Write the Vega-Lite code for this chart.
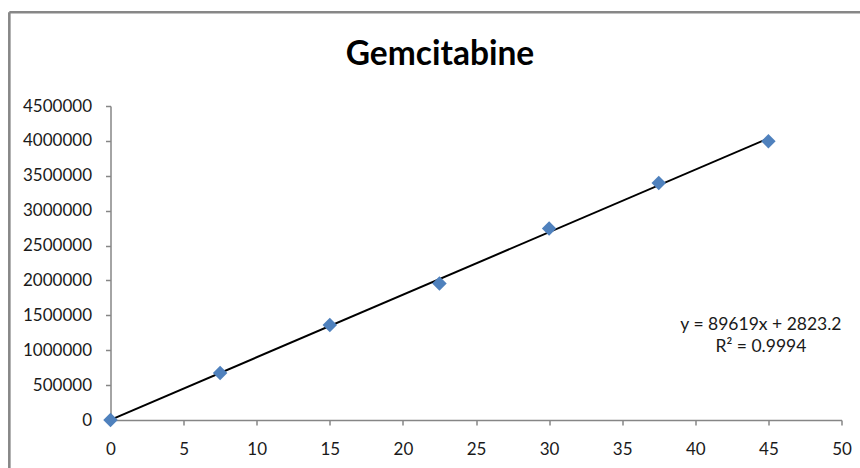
{
  "$schema": "https://vega.github.io/schema/vega-lite/v6.json",
  "autosize": {"type": "none"},
  "width": 731,
  "height": 314,
  "padding": {"left": 110.5, "top": 106, "right": 18.5, "bottom": 48},
  "background": "#ffffff",
  "config": {
    "view": {"stroke": null},
    "font": "Lato",
    "axis": {
      "domainColor": "#868686",
      "domainWidth": 1.5,
      "tickColor": "#868686",
      "tickWidth": 1.5,
      "tickSize": 5,
      "grid": false,
      "labelFont": "Lato",
      "labelFontSize": 17,
      "labelColor": "#1a1a1a",
      "labelOverlap": false,
      "labelFlush": false,
      "title": null
    },
    "axisX": {"values": [0, 5, 10, 15, 20, 25, 30, 35, 40, 45, 50], "labelPadding": 16},
    "axisY": {
      "values": [0, 500000, 1000000, 1500000, 2000000, 2500000, 3000000, 3500000, 4000000, 4500000],
      "format": "d",
      "labelPadding": 14
    }
  },
  "title": {
    "text": "Gemcitabine",
    "font": "Lato",
    "fontSize": 33.5,
    "fontWeight": "bold",
    "color": "#000000",
    "anchor": "middle",
    "frame": "group",
    "dx": -36,
    "baseline": "alphabetic",
    "offset": -87.4
  },
  "data": {
    "values": [
      {"concentration": 0, "area": 0},
      {"concentration": 7.5, "area": 672000},
      {"concentration": 15, "area": 1360000},
      {"concentration": 22.5, "area": 1955000},
      {"concentration": 30, "area": 2745000},
      {"concentration": 37.5, "area": 3395000},
      {"concentration": 45, "area": 3995000}
    ]
  },
  "layer": [
    {
      "data": {"values": [{"edge": "top"}]},
      "mark": {"type": "rule", "color": "#878787", "strokeWidth": 2.6},
      "encoding": {
        "x": {"datum": -6.92, "type": "quantitative", "scale": {"domain": [0, 50], "nice": false}, "axis": {"values": [0, 5, 10, 15, 20, 25, 30, 35, 40, 45, 50], "labelPadding": 16, "title": null}},
        "x2": {"datum": 70},
        "y": {"datum": 5843000, "type": "quantitative", "scale": {"domain": [0, 4500000], "nice": false}, "axis": {"values": [0, 500000, 1000000, 1500000, 2000000, 2500000, 3000000, 3500000, 4000000, 4500000], "format": "d", "labelPadding": 14, "title": null}}
      }
    },
    {
      "data": {"values": [{"edge": "left"}]},
      "mark": {"type": "rule", "color": "#878787", "strokeWidth": 2.6},
      "encoding": {
        "x": {"datum": -6.92, "type": "quantitative", "scale": {"domain": [0, 50], "nice": false}, "axis": {"values": [0, 5, 10, 15, 20, 25, 30, 35, 40, 45, 50], "labelPadding": 16, "title": null}},
        "y": {"datum": 5843000, "type": "quantitative", "scale": {"domain": [0, 4500000], "nice": false}, "axis": {"values": [0, 500000, 1000000, 1500000, 2000000, 2500000, 3000000, 3500000, 4000000, 4500000], "format": "d", "labelPadding": 14, "title": null}},
        "y2": {"datum": -1500000}
      }
    },
    {
      "data": {"values": [{"concentration": 0, "fit": 2823.2}, {"concentration": 45, "fit": 4035678.2}]},
      "mark": {"type": "line", "color": "#000000", "strokeWidth": 2},
      "encoding": {
        "x": {"field": "concentration", "type": "quantitative", "scale": {"domain": [0, 50], "nice": false}, "axis": {"values": [0, 5, 10, 15, 20, 25, 30, 35, 40, 45, 50], "labelPadding": 16, "title": null}},
        "y": {"field": "fit", "type": "quantitative", "scale": {"domain": [0, 4500000], "nice": false}, "axis": {"values": [0, 500000, 1000000, 1500000, 2000000, 2500000, 3000000, 3500000, 4000000, 4500000], "format": "d", "labelPadding": 14, "title": null}}
      }
    },
    {
      "mark": {"type": "point", "shape": "diamond", "filled": true, "color": "#4F81BD", "opacity": 1, "size": 210},
      "encoding": {
        "x": {"field": "concentration", "type": "quantitative", "scale": {"domain": [0, 50], "nice": false}, "axis": {"values": [0, 5, 10, 15, 20, 25, 30, 35, 40, 45, 50], "labelPadding": 16, "title": null}},
        "y": {"field": "area", "type": "quantitative", "scale": {"domain": [0, 4500000], "nice": false}, "axis": {"values": [0, 500000, 1000000, 1500000, 2000000, 2500000, 3000000, 3500000, 4000000, 4500000], "format": "d", "labelPadding": 14, "title": null}}
      }
    },
    {
      "data": {"values": [{"label": "y = 89619x + 2823.2"}]},
      "mark": {"type": "text", "font": "Lato", "fontSize": 17.5, "color": "#1a1a1a", "align": "center", "baseline": "middle"},
      "encoding": {
        "x": {"datum": 44.49, "type": "quantitative", "scale": {"domain": [0, 50], "nice": false}, "axis": {"values": [0, 5, 10, 15, 20, 25, 30, 35, 40, 45, 50], "labelPadding": 16, "title": null}},
        "y": {"datum": 1361000, "type": "quantitative", "scale": {"domain": [0, 4500000], "nice": false}, "axis": {"values": [0, 500000, 1000000, 1500000, 2000000, 2500000, 3000000, 3500000, 4000000, 4500000], "format": "d", "labelPadding": 14, "title": null}},
        "text": {"field": "label"}
      }
    },
    {
      "data": {"values": [{"label": "R² = 0.9994"}]},
      "mark": {"type": "text", "font": "Lato", "fontSize": 17.5, "color": "#1a1a1a", "align": "center", "baseline": "middle"},
      "encoding": {
        "x": {"datum": 44.49, "type": "quantitative", "scale": {"domain": [0, 50], "nice": false}, "axis": {"values": [0, 5, 10, 15, 20, 25, 30, 35, 40, 45, 50], "labelPadding": 16, "title": null}},
        "y": {"datum": 1046000, "type": "quantitative", "scale": {"domain": [0, 4500000], "nice": false}, "axis": {"values": [0, 500000, 1000000, 1500000, 2000000, 2500000, 3000000, 3500000, 4000000, 4500000], "format": "d", "labelPadding": 14, "title": null}},
        "text": {"field": "label"}
      }
    }
  ]
}
